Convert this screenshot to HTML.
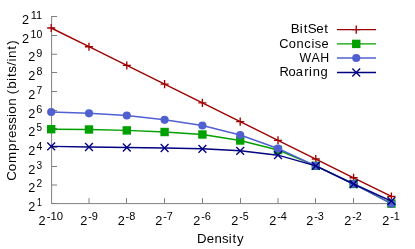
<!DOCTYPE html>
<html><head><meta charset="utf-8"><title>Compression vs Density</title>
<style>
html,body{margin:0;padding:0;background:#fff;}
svg{display:block;will-change:transform;}
text{font-family:"Liberation Sans",sans-serif;fill:#000;}
</style></head><body>
<svg width="415" height="249" viewBox="0 0 415 249">
<rect width="415" height="249" fill="#fff"/>
<g stroke="#808080" stroke-width="1" fill="none">
<path d="M51.6 16V203.6H392"/>
<path d="M51.5 203.5H57.1"/>
<path d="M51.5 185.0H57.1"/>
<path d="M51.5 166.5H57.1"/>
<path d="M51.5 147.5H57.1"/>
<path d="M51.5 128.5H57.1"/>
<path d="M51.5 110.5H57.1"/>
<path d="M51.5 91.5H57.1"/>
<path d="M51.5 72.5H57.1"/>
<path d="M51.5 54.25H57.1"/>
<path d="M51.5 35.5H57.1"/>
<path d="M51.5 16.5H57.1"/>
<path d="M89.0 203.5V198.1"/>
<path d="M126.5 203.5V198.1"/>
<path d="M164.5 203.5V198.1"/>
<path d="M202.5 203.5V198.1"/>
<path d="M240.5 203.5V198.1"/>
<path d="M278.0 203.5V198.1"/>
<path d="M315.5 203.5V198.1"/>
<path d="M353.5 203.5V198.1"/>
<path d="M391.5 203.5V198.1"/>
</g>
<text x="28.28" y="210.50" font-size="13.1" textLength="7.06" lengthAdjust="spacingAndGlyphs">2</text><text x="37.12" y="205.80" font-size="10.0" textLength="4.95" lengthAdjust="spacingAndGlyphs">1</text>
<text x="28.28" y="192.00" font-size="13.1" textLength="7.06" lengthAdjust="spacingAndGlyphs">2</text><text x="36.42" y="187.30" font-size="10.0" textLength="5.65" lengthAdjust="spacingAndGlyphs">2</text>
<text x="28.28" y="173.50" font-size="13.1" textLength="7.06" lengthAdjust="spacingAndGlyphs">2</text><text x="36.58" y="168.80" font-size="10.0" textLength="5.63" lengthAdjust="spacingAndGlyphs">3</text>
<text x="28.28" y="154.50" font-size="13.1" textLength="7.06" lengthAdjust="spacingAndGlyphs">2</text><text x="36.45" y="149.80" font-size="10.0" textLength="5.86" lengthAdjust="spacingAndGlyphs">4</text>
<text x="28.28" y="135.50" font-size="13.1" textLength="7.06" lengthAdjust="spacingAndGlyphs">2</text><text x="36.57" y="130.80" font-size="10.0" textLength="5.53" lengthAdjust="spacingAndGlyphs">5</text>
<text x="28.28" y="117.50" font-size="13.1" textLength="7.06" lengthAdjust="spacingAndGlyphs">2</text><text x="36.34" y="112.80" font-size="10.0" textLength="6.07" lengthAdjust="spacingAndGlyphs">6</text>
<text x="28.28" y="98.50" font-size="13.1" textLength="7.06" lengthAdjust="spacingAndGlyphs">2</text><text x="36.49" y="93.80" font-size="10.0" textLength="5.73" lengthAdjust="spacingAndGlyphs">7</text>
<text x="28.28" y="79.50" font-size="13.1" textLength="7.06" lengthAdjust="spacingAndGlyphs">2</text><text x="36.42" y="74.80" font-size="10.0" textLength="5.93" lengthAdjust="spacingAndGlyphs">8</text>
<text x="28.28" y="61.25" font-size="13.1" textLength="7.06" lengthAdjust="spacingAndGlyphs">2</text><text x="36.32" y="56.55" font-size="10.0" textLength="6.06" lengthAdjust="spacingAndGlyphs">9</text>
<text x="21.92" y="42.50" font-size="13.1" textLength="7.06" lengthAdjust="spacingAndGlyphs">2</text><text x="30.64" y="37.80" font-size="10.0" textLength="11.67" lengthAdjust="spacingAndGlyphs">10</text>
<text x="21.92" y="23.50" font-size="13.1" textLength="7.06" lengthAdjust="spacingAndGlyphs">2</text><text x="30.65" y="18.80" font-size="10.0" textLength="11.49" lengthAdjust="spacingAndGlyphs">11</text>
<text x="38.48" y="224.60" font-size="13.1" textLength="7.06" lengthAdjust="spacingAndGlyphs">2</text><text x="46.70" y="219.90" font-size="10.0" textLength="16.29" lengthAdjust="spacingAndGlyphs">-10</text>
<text x="80.28" y="224.60" font-size="13.1" textLength="7.06" lengthAdjust="spacingAndGlyphs">2</text><text x="88.20" y="219.90" font-size="10.0" textLength="9.79" lengthAdjust="spacingAndGlyphs">-9</text>
<text x="117.68" y="224.60" font-size="13.1" textLength="7.06" lengthAdjust="spacingAndGlyphs">2</text><text x="125.60" y="219.90" font-size="10.0" textLength="9.77" lengthAdjust="spacingAndGlyphs">-8</text>
<text x="155.28" y="224.60" font-size="13.1" textLength="7.06" lengthAdjust="spacingAndGlyphs">2</text><text x="163.21" y="219.90" font-size="10.0" textLength="9.66" lengthAdjust="spacingAndGlyphs">-7</text>
<text x="193.28" y="224.60" font-size="13.1" textLength="7.06" lengthAdjust="spacingAndGlyphs">2</text><text x="201.20" y="219.90" font-size="10.0" textLength="9.83" lengthAdjust="spacingAndGlyphs">-6</text>
<text x="231.28" y="224.60" font-size="13.1" textLength="7.06" lengthAdjust="spacingAndGlyphs">2</text><text x="239.21" y="219.90" font-size="10.0" textLength="9.54" lengthAdjust="spacingAndGlyphs">-5</text>
<text x="269.28" y="224.60" font-size="13.1" textLength="7.06" lengthAdjust="spacingAndGlyphs">2</text><text x="277.20" y="219.90" font-size="10.0" textLength="9.73" lengthAdjust="spacingAndGlyphs">-4</text>
<text x="306.28" y="224.60" font-size="13.1" textLength="7.06" lengthAdjust="spacingAndGlyphs">2</text><text x="314.21" y="219.90" font-size="10.0" textLength="9.64" lengthAdjust="spacingAndGlyphs">-3</text>
<text x="344.28" y="224.60" font-size="13.1" textLength="7.06" lengthAdjust="spacingAndGlyphs">2</text><text x="352.21" y="219.90" font-size="10.0" textLength="9.49" lengthAdjust="spacingAndGlyphs">-2</text>
<text x="382.28" y="224.60" font-size="13.1" textLength="7.06" lengthAdjust="spacingAndGlyphs">2</text><text x="390.21" y="219.90" font-size="10.0" textLength="9.56" lengthAdjust="spacingAndGlyphs">-1</text>
<text transform="scale(1.0087,1)" x="195.39 204.95 212.59 220.07 226.70 230.39 234.98" y="243.40" font-size="13.1">Density</text>
<text transform="translate(15.8,179.5) rotate(-90) scale(1.0216,1)" x="-1.18 8.07 16.07 27.86 35.94 40.60 48.05 54.48 61.15 64.45 72.17 79.69 83.51 88.79 96.54 100.27 104.57 111.24 115.40 118.86 126.96 131.79" y="0.00" font-size="13.1">Compression (bits/int)</text>
<text transform="scale(1.0199,1)" x="285.12 294.01 297.74 301.63 310.03 318.01" y="33.50" font-size="13.1">BitSet</text>
<text transform="scale(0.9820,1)" x="284.33 293.96 302.03 309.87 317.19 320.61 327.52" y="47.60" font-size="13.1">Concise</text>
<text transform="scale(0.9437,1)" x="317.37 330.20 339.30" y="61.90" font-size="13.1">WAH</text>
<text transform="scale(0.9894,1)" x="282.44 291.60 298.88 307.54 312.39 315.99 323.92" y="75.90" font-size="13.1">Roaring</text>
<polyline points="51.20,28.00 89.00,46.72 126.80,65.44 164.60,84.16 202.40,102.88 240.20,121.60 278.00,140.32 315.80,159.04 353.60,177.76 391.40,196.48" fill="none" stroke="#a00000" stroke-width="1.4" stroke-linejoin="round"/>
<path d="M47.15 28.00H55.25M51.20 23.95V32.05" stroke="#a00000" stroke-width="1.35" fill="none"/>
<path d="M84.95 46.72H93.05M89.00 42.67V50.77" stroke="#a00000" stroke-width="1.35" fill="none"/>
<path d="M122.75 65.44H130.85M126.80 61.39V69.49" stroke="#a00000" stroke-width="1.35" fill="none"/>
<path d="M160.55 84.16H168.65M164.60 80.11V88.21" stroke="#a00000" stroke-width="1.35" fill="none"/>
<path d="M198.35 102.88H206.45M202.40 98.83V106.93" stroke="#a00000" stroke-width="1.35" fill="none"/>
<path d="M236.15 121.60H244.25M240.20 117.55V125.65" stroke="#a00000" stroke-width="1.35" fill="none"/>
<path d="M273.95 140.32H282.05M278.00 136.27V144.37" stroke="#a00000" stroke-width="1.35" fill="none"/>
<path d="M311.75 159.04H319.85M315.80 154.99V163.09" stroke="#a00000" stroke-width="1.35" fill="none"/>
<path d="M349.55 177.76H357.65M353.60 173.71V181.81" stroke="#a00000" stroke-width="1.35" fill="none"/>
<path d="M387.35 196.48H395.45M391.40 192.43V200.53" stroke="#a00000" stroke-width="1.35" fill="none"/>
<path d="M337 29.6H376" stroke="#a00000" stroke-width="1.4" fill="none"/>
<path d="M352.20 29.60H360.30M356.25 25.55V33.65" stroke="#a00000" stroke-width="1.35" fill="none"/>
<polyline points="51.20,129.20 89.00,129.50 126.80,130.40 164.60,132.00 202.40,134.50 240.20,140.50 278.00,150.00 315.80,165.80 353.60,184.00 391.40,203.65" fill="none" stroke="#00a000" stroke-width="1.4" stroke-linejoin="round"/>
<rect x="47.00" y="125.00" width="8.4" height="8.4" fill="#00a000"/>
<rect x="84.80" y="125.30" width="8.4" height="8.4" fill="#00a000"/>
<rect x="122.60" y="126.20" width="8.4" height="8.4" fill="#00a000"/>
<rect x="160.40" y="127.80" width="8.4" height="8.4" fill="#00a000"/>
<rect x="198.20" y="130.30" width="8.4" height="8.4" fill="#00a000"/>
<rect x="236.00" y="136.30" width="8.4" height="8.4" fill="#00a000"/>
<rect x="273.80" y="145.80" width="8.4" height="8.4" fill="#00a000"/>
<rect x="311.60" y="161.60" width="8.4" height="8.4" fill="#00a000"/>
<rect x="349.40" y="179.80" width="8.4" height="8.4" fill="#00a000"/>
<rect x="387.20" y="199.45" width="8.4" height="8.4" fill="#00a000"/>
<path d="M337 43.9H376" stroke="#00a000" stroke-width="1.4" fill="none"/>
<rect x="352.05" y="39.70" width="8.4" height="8.4" fill="#00a000"/>
<polyline points="51.20,112.00 89.00,113.30 126.80,115.50 164.60,119.80 202.40,125.50 240.20,135.00 278.00,148.50 315.80,165.80 353.60,184.00 391.40,203.65" fill="none" stroke="#5060d0" stroke-width="1.4" stroke-linejoin="round"/>
<circle cx="51.20" cy="112.00" r="4.08" fill="#5060d0"/>
<circle cx="89.00" cy="113.30" r="4.08" fill="#5060d0"/>
<circle cx="126.80" cy="115.50" r="4.08" fill="#5060d0"/>
<circle cx="164.60" cy="119.80" r="4.08" fill="#5060d0"/>
<circle cx="202.40" cy="125.50" r="4.08" fill="#5060d0"/>
<circle cx="240.20" cy="135.00" r="4.08" fill="#5060d0"/>
<circle cx="278.00" cy="148.50" r="4.08" fill="#5060d0"/>
<circle cx="315.80" cy="165.80" r="4.08" fill="#5060d0"/>
<circle cx="353.60" cy="184.00" r="4.08" fill="#5060d0"/>
<circle cx="391.40" cy="203.65" r="4.08" fill="#5060d0"/>
<path d="M337 58.0H376" stroke="#5060d0" stroke-width="1.4" fill="none"/>
<circle cx="356.25" cy="58.00" r="4.08" fill="#5060d0"/>
<polyline points="51.20,146.40 89.00,147.00 126.80,147.50 164.60,148.00 202.40,148.80 240.20,150.80 278.00,155.20 315.80,165.80 353.60,184.00 391.40,201.20" fill="none" stroke="#000080" stroke-width="1.4" stroke-linejoin="round"/>
<path d="M47.30 142.50L55.10 150.30M47.30 150.30L55.10 142.50" stroke="#000080" stroke-width="1.35" fill="none"/>
<path d="M85.10 143.10L92.90 150.90M85.10 150.90L92.90 143.10" stroke="#000080" stroke-width="1.35" fill="none"/>
<path d="M122.90 143.60L130.70 151.40M122.90 151.40L130.70 143.60" stroke="#000080" stroke-width="1.35" fill="none"/>
<path d="M160.70 144.10L168.50 151.90M160.70 151.90L168.50 144.10" stroke="#000080" stroke-width="1.35" fill="none"/>
<path d="M198.50 144.90L206.30 152.70M198.50 152.70L206.30 144.90" stroke="#000080" stroke-width="1.35" fill="none"/>
<path d="M236.30 146.90L244.10 154.70M236.30 154.70L244.10 146.90" stroke="#000080" stroke-width="1.35" fill="none"/>
<path d="M274.10 151.30L281.90 159.10M274.10 159.10L281.90 151.30" stroke="#000080" stroke-width="1.35" fill="none"/>
<path d="M311.90 161.90L319.70 169.70M311.90 169.70L319.70 161.90" stroke="#000080" stroke-width="1.35" fill="none"/>
<path d="M349.70 180.10L357.50 187.90M349.70 187.90L357.50 180.10" stroke="#000080" stroke-width="1.35" fill="none"/>
<path d="M387.50 197.30L395.30 205.10M387.50 205.10L395.30 197.30" stroke="#000080" stroke-width="1.35" fill="none"/>
<path d="M337 72.5H376" stroke="#000080" stroke-width="1.4" fill="none"/>
<path d="M352.35 68.60L360.15 76.40M352.35 76.40L360.15 68.60" stroke="#000080" stroke-width="1.35" fill="none"/>
</svg></body></html>
